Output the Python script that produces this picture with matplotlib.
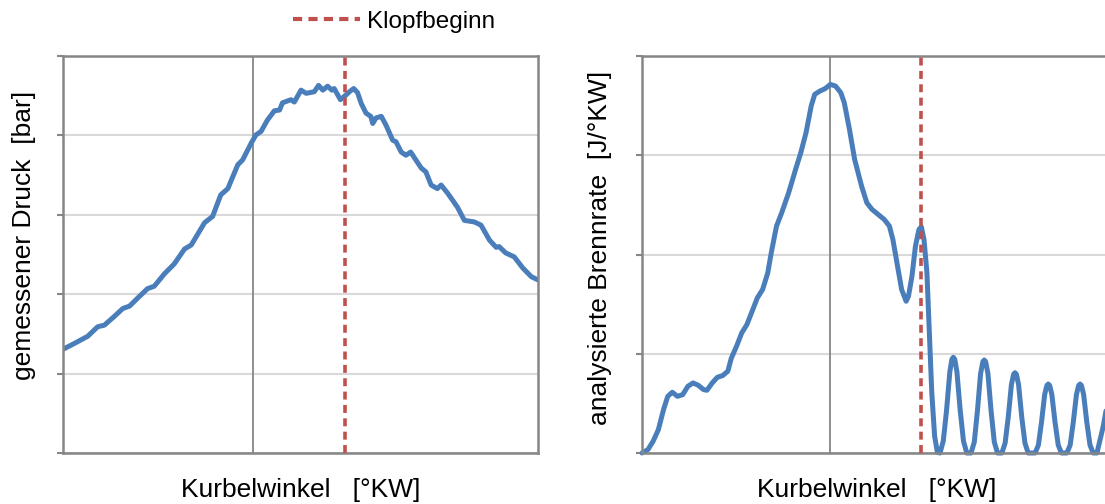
import numpy as np
import matplotlib
matplotlib.use("Agg")
import matplotlib.pyplot as plt
from matplotlib.lines import Line2D

plt.rcParams['font.family'] = ['Liberation Sans', 'DejaVu Sans']

# crank angle [deg CA] and measured cylinder pressure [bar]
kw_druck = [-20.0, -18.8, -17.4, -16.35, -15.65, -14.6, -13.7, -13.0, -12.15, -11.1,
            -10.4, -9.3, -8.3, -7.2, -6.5, -5.1, -4.25, -3.4, -2.65, -1.6,
            -1.1, -0.2, 0.3, 0.85, 1.5, 2.25, 2.8, 3.1, 4.0, 4.35,
            5.05, 5.6, 6.45, 6.9, 7.35, 7.85, 8.3, 8.55, 9.2, 9.8,
            10.15, 10.6, 11.0, 11.4, 11.9, 12.4, 12.6, 12.95, 13.5, 14.0,
            14.7, 15.05, 15.6, 16.1, 16.6, 17.15, 17.7, 18.2, 18.75, 19.4,
            19.8, 20.5, 21.5, 22.25, 23.3, 24.0, 24.9, 25.6, 25.9, 26.6,
            27.5, 28.4, 29.3, 30.0]
druck = [13.06, 13.8, 14.7, 15.9, 16.1, 17.2, 18.2, 18.5, 19.5, 20.7,
         21.0, 22.6, 23.8, 25.7, 26.2, 29.0, 29.8, 32.5, 33.3, 36.3,
         36.9, 39.0, 40.05, 40.5, 41.9, 43.1, 43.2, 44.1, 44.5, 44.2,
         45.7, 45.3, 45.5, 46.3, 45.7, 46.2, 45.7, 45.9, 44.5, 45.1,
         45.5, 45.9, 45.4, 44.0, 42.8, 42.4, 41.5, 42.2, 42.4, 41.3,
         39.4, 39.2, 37.9, 37.5, 37.9, 36.9, 35.9, 35.4, 33.75, 33.3,
         33.75, 32.7, 31.0, 29.3, 29.1, 28.7, 26.8, 25.9, 26.0, 25.2,
         24.7, 23.3, 22.2, 21.8]

# crank angle [deg CA] and analysed heat release rate [J/deg CA]
kw_brenn = [-20.0, -19.37, -18.82, -18.26, -17.71, -17.26, -16.78, -16.23, -15.67, -15.12,
            -14.57, -14.01, -13.46, -13.09, -12.53, -11.98, -11.42, -10.87, -10.50, -9.94,
            -9.39, -8.84, -8.28, -7.73, -7.17, -6.62, -6.25, -5.69, -5.14, -4.40,
            -3.66, -3.11, -2.55, -2.00, -1.63, -1.07, -0.52, 0.04, 0.59, 1.15,
            1.52, 2.07, 2.62, 3.36, 3.92, 4.47, 5.77, 6.32, 6.69, 7.06,
            7.62, 8.10, 8.35, 8.72, 9.09, 9.46, 9.72, 10.00, 10.31, 10.57,
            10.83, 11.13, 11.42,
            11.70, 12.05, 12.40, 12.75, 12.97, 13.12, 13.27, 13.50, 13.85, 14.20, 14.55,
            15.00, 15.35, 15.68, 16.02, 16.26, 16.41, 16.56, 16.80, 17.14, 17.48, 17.82,
            18.28, 18.63, 18.96, 19.30, 19.53, 19.68, 19.83, 20.06, 20.40, 20.74, 21.08,
            21.82, 22.17, 22.50, 22.84, 23.07, 23.22, 23.37, 23.60, 23.94, 24.28, 24.62,
            25.20, 25.55, 25.88, 26.22, 26.45, 26.60, 26.75, 26.98, 27.32, 27.66, 28.00,
            28.40, 29.07, 29.60]
brennrate = [0.0, 0.34, 1.18, 2.35, 4.37, 5.71, 6.12, 5.71, 5.88, 6.72,
             7.06, 6.82, 6.39, 6.32, 7.06, 7.63, 7.80, 8.24, 9.55, 10.76,
             12.10, 12.94, 14.29, 15.63, 16.47, 18.15, 20.17, 22.86, 24.20, 26.22,
             28.57, 30.25, 32.27, 34.96, 36.13, 36.47, 36.71, 37.14, 36.97, 36.30,
             35.29, 32.61, 29.58, 26.89, 25.21, 24.54, 23.53, 22.86, 21.51, 19.50,
             16.47, 15.29, 15.80, 17.82, 20.84, 22.52, 22.79, 21.50, 18.20, 12.10,
             6.05, 1.70, 0.07,
             0.0, 1.2, 4.3, 8.2, 9.45, 9.64, 9.45, 8.2, 4.3, 1.2, 0.0,
             0.0, 1.1, 4.2, 8.0, 9.2, 9.37, 9.2, 8.0, 4.2, 1.1, 0.0,
             0.0, 1.0, 3.6, 6.9, 7.93, 8.09, 7.93, 6.9, 3.6, 1.0, 0.0,
             0.0, 0.8, 3.1, 5.9, 6.8, 6.95, 6.8, 5.9, 3.1, 0.8, 0.0,
             0.0, 0.8, 3.1, 5.9, 6.8, 6.95, 6.8, 5.9, 3.1, 0.8, 0.0,
             0.0, 2.7, 5.5]

klopfbeginn = 9.7

blau = '#4a7ebb'
rot = '#c0504d'
achse = '#868686'
gitter = '#d9d9d9'
strich = (0, (2.2, 1.5))

fig = plt.figure(figsize=(11.05, 5.04), dpi=100)
ax1 = fig.add_axes([63 / 1105, 51 / 504, 475 / 1105, 397 / 504])
ax2 = fig.add_axes([642 / 1105, 51 / 504, 470 / 1105, 397 / 504])


def style(ax, ymax, ystep):
    ax.set_xlim(-20, 30)
    ax.set_ylim(0, ymax)
    ax.set_yticks(np.arange(0, ymax + 0.1, ystep))
    ax.set_xticks([])
    ax.set_yticklabels([])
    ax.tick_params(axis='y', direction='out', length=4.5, width=1.5, color=achse)
    for s in ax.spines.values():
        s.set_color(achse)
        s.set_linewidth(1.8)
    ax.grid(axis='y', color=gitter, lw=1.5)
    ax.set_axisbelow(True)
    ax.axvline(0, color=achse, lw=1.3, zorder=1)
    ax.axvline(klopfbeginn, color=rot, lw=2.6, ls=strich, zorder=3)
    ax.set_xlabel('Kurbelwinkel   [°KW]', fontsize=19)
    ax.xaxis.set_label_coords(0.5, -0.063)


style(ax1, 50, 10)
ax1.plot(kw_druck, druck, color=blau, lw=3.6, solid_joinstyle='round',
         solid_capstyle='round', zorder=2)
ax1.set_ylabel('gemessener Druck  [bar]', fontsize=19)
ax1.yaxis.set_label_coords(-0.056, 0.548)

style(ax2, 40, 10)
ax2.plot(kw_brenn, brennrate, color=blau, lw=3.6, solid_joinstyle='round',
         solid_capstyle='round', clip_on=False, zorder=2)
ax2.set_ylabel('analysierte Brennrate  [J/°KW]', fontsize=19)
ax2.yaxis.set_label_coords(-0.063, 0.517)

handle = Line2D([], [], color=rot, lw=3, ls=strich)
fig.legend([handle], ['Klopfbeginn'], loc='upper left',
           bbox_to_anchor=(282 / 1105, 1.0), frameon=False, fontsize=17.5,
           handlelength=2.75, handletextpad=0.3, borderaxespad=0.05)

fig.savefig('out.png', dpi=100)
